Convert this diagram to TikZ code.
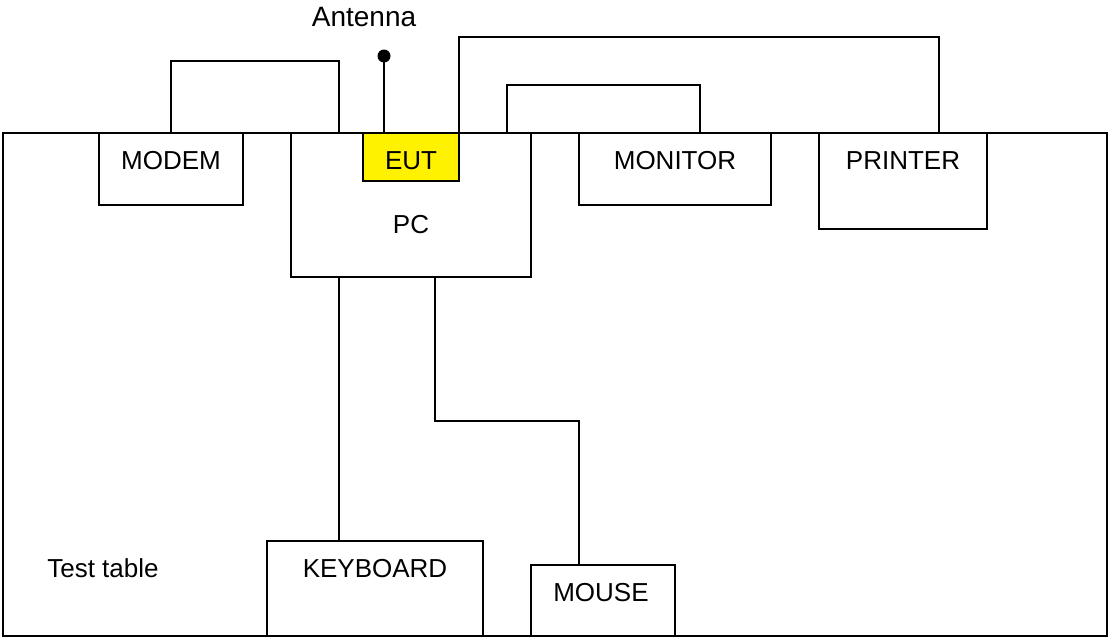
\documentclass[tikz,border=0pt]{standalone}
\usepackage{fontspec}
\setmainfont{Liberation Sans}
\begin{document}
\begin{tikzpicture}[x=1pt,y=-1pt,line width=1.7pt,
  box/.style={draw=black, inner sep=0pt, outer sep=0pt, anchor=north west},
  lbl/.style={inner sep=0pt, font=\fontsize{26}{30}\selectfont},
  cable/.style={draw=black, line width=1.7pt}]
\useasboundingbox (0,0) rectangle (1109,637);
% table and equipment
\node[box, minimum width=1104pt, minimum height=503pt] (table) at (3,133) {};
\node[box, minimum width=144pt, minimum height=72pt] (modem) at (99,133) {};
\node[box, minimum width=240pt, minimum height=144pt] (pc) at (291,133) {};
\node[box, fill=yellow, minimum width=96pt, minimum height=48pt] (eut) at (363,133) {};
\node[box, minimum width=192pt, minimum height=72pt] (monitor) at (579,133) {};
\node[box, minimum width=168pt, minimum height=96pt] (printer) at (819,133) {};
\node[box, minimum width=216pt, minimum height=95pt] (keyboard) at (267,541) {};
\node[box, minimum width=144pt, minimum height=71pt] (mouse) at (531,565) {};
% labels
\node[lbl] (tmodem) at (171,161) {MODEM};
\node[lbl] (tpc) at (411,225) {PC};
\node[lbl] (teut) at (411,161) {EUT};
\node[lbl] (tmonitor) at (675,161) {MONITOR};
\node[lbl] (tprinter) at (903,161) {PRINTER};
\node[lbl] (tkeyboard) at (375,569) {KEYBOARD};
\node[lbl] (tmouse) at (601,593) {MOUSE};
\node[lbl] (ttable) at (103,568) {Test table};
\node[lbl, font=\fontsize{28}{32}\selectfont] (tant) at (364,17) {Antenna};
% ports
\coordinate (pcModem) at (339,133);
\coordinate (pcMon) at (507,133);
\coordinate (monPort) at (700,133);
\coordinate (prnPort) at (939,133);
\coordinate (pcKb) at (339,277);
\coordinate (kbTop) at (339,541);
\coordinate (pcMouse) at (435,277);
\coordinate (mouseTop) at (579,565);
\coordinate (eutAnt) at (384,133);
\coordinate (antTip) at (384,56);
% cables
\draw[cable] (modem.north) -- ++(0,-72) -| (pcModem);
\draw[cable] (eut.north east) -- ++(0,-96) -| (prnPort);
\draw[cable] (pcMon) -- ++(0,-48) -| (monPort);
\draw[cable] (pcKb) -- (kbTop);
\draw[cable] (pcMouse) -- ++(0,144) -| (mouseTop);
\draw[cable] (eutAnt) -- (antTip);
\fill (antTip) circle (6.5);
\end{tikzpicture}
\end{document}
